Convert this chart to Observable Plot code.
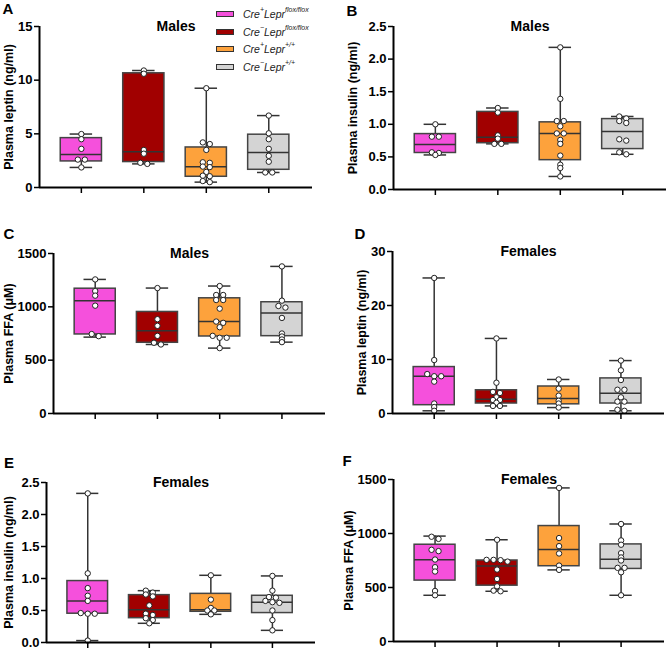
<!DOCTYPE html>
<html><head><meta charset="utf-8">
<script src="https://cdn.jsdelivr.net/npm/d3@7"></script>
<script src="https://cdn.jsdelivr.net/npm/@observablehq/plot@0.6"></script>
<style>
body{margin:0;background:#fff;}
#wrap{position:relative;width:668px;height:650px;font-family:"Liberation Sans",Arial,sans-serif;overflow:hidden;background:#fff;}
.panel{position:absolute;}
.letter{position:absolute;font-weight:bold;font-size:15px;line-height:1;transform:translate(-50%,-50%);color:#000;}
.item{position:absolute;white-space:nowrap;font-style:italic;font-size:10.5px;color:#222;line-height:1;transform:translateY(-50%);}
.sw{position:absolute;width:16px;height:4px;border:1px solid #333;transform:translateY(-50%);}
.item sup{font-size:7px;vertical-align:top;position:relative;top:-3px;}
</style></head>
<body><div id="wrap"></div>
<script>
// ---- groups & legend ----
const groups = ["Cre+ Lepr flox/flox", "Cre- Lepr flox/flox", "Cre+ Lepr +/+", "Cre- Lepr +/+"];
const groupColors = ["#f550dc", "#a10000", "#fda23c", "#d4d4d4"];
const creSup = ["+", "\u2212", "+", "\u2212"];
const leprSup = ["flox/flox", "flox/flox", "+/+", "+/+"];

// ---- A: leptin, males ----
const leptinMales = [
  [4.98, 4.5, 3.6, 2.6, 2.6, 1.87],
  [10.9, 10.6, 3.5, 3.15, 2.3, 2.2],
  [9.25, 4.2, 4.05, 3.5, 2.35, 2.3, 1.95, 1.9, 1.45, 1.1, 1.05, 0.6, 0.5],
  [6.7, 5.05, 4.5, 3.6, 2.95, 2.4, 1.4, 1.4]
];
const leptinMalesBox = [[1.87, 2.43, 3.08, 4.6, 4.98], [2.2, 2.37, 3.33, 10.64, 10.9], [0.5, 1.0, 1.93, 3.73, 9.25], [1.4, 1.65, 3.27, 4.92, 6.7]];
// ---- B: insulin, males ----
const insulinMales = [
  [1.0, 0.81, 0.81, 0.57, 0.56, 0.53],
  [1.25, 1.18, 0.83, 0.78, 0.70, 0.70],
  [2.18, 1.39, 1.05, 1.05, 0.97, 0.86, 0.86, 0.76, 0.70, 0.52, 0.38, 0.33, 0.20],
  [1.12, 1.09, 1.05, 1.02, 0.77, 0.75, 0.57, 0.54]
];
const insulinMalesBox = [[0.53, 0.56, 0.69, 0.85, 1.0], [0.70, 0.71, 0.80, 1.19, 1.25], [0.20, 0.45, 0.86, 1.03, 2.18], [0.54, 0.62, 0.89, 1.08, 1.12]];
// ---- C: FFA, males ----
const ffaMales = [
  [1257, 1148, 1105, 1011, 745, 725],
  [1176, 884, 822, 728, 663, 647],
  [1195, 1111, 1111, 1064, 1064, 983, 862, 850, 809, 728, 710, 710, 613],
  [1379, 1058, 1008, 993, 896, 750, 722, 694, 669]
];
const ffaMalesBox = [[716, 741, 1058, 1170, 1257], [647, 663, 775, 952, 1176], [613, 722, 862, 1080, 1195], [669, 725, 943, 1043, 1379]];
// ---- D: leptin, females ----
const leptinFemales = [
  [25.1, 9.9, 7.3, 6.9, 6.9, 5.9, 1.85, 1.2, 0.5],
  [13.9, 5.7, 4.0, 3.8, 3.0, 2.5, 2.5, 2.0, 1.4, 1.4],
  [6.3, 4.6, 3.3, 2.35, 1.85, 1.1],
  [9.8, 8.0, 6.2, 4.4, 4.4, 3.0, 2.2, 2.2, 0.7, 0.5]
];
const leptinFemalesBox = [[0.5, 1.54, 6.9, 8.6, 25.1], [1.4, 1.85, 2.65, 4.3, 13.9], [1.1, 1.7, 2.8, 5.0, 6.3], [0.5, 1.85, 3.75, 6.5, 9.8]];
// ---- E: insulin, females ----
const insulinFemales = [
  [2.33, 1.08, 0.85, 0.73, 0.65, 0.46, 0.45, 0.45, 0.03],
  [0.81, 0.78, 0.75, 0.72, 0.58, 0.45, 0.43, 0.38, 0.35, 0.30],
  [1.05, 0.67, 0.54, 0.50, 0.50, 0.44],
  [1.04, 0.81, 0.71, 0.70, 0.65, 0.63, 0.62, 0.50, 0.35, 0.19]
];
const insulinFemalesBox = [[0.03, 0.45, 0.65, 0.96, 2.33], [0.30, 0.38, 0.51, 0.74, 0.81], [0.44, 0.48, 0.51, 0.76, 1.05], [0.19, 0.46, 0.63, 0.73, 1.04]];
// ---- F: FFA, females ----
const ffaFemales = [
  [970, 950, 849, 837, 759, 688, 648, 468, 428],
  [942, 756, 756, 753, 740, 666, 579, 511, 471, 465],
  [1422, 958, 883, 815, 703, 663],
  [1088, 936, 896, 818, 778, 750, 682, 682, 641, 428]
];
const ffaFemalesBox = [[428, 564, 756, 896, 976], [465, 517, 700, 750, 942], [663, 697, 852, 1069, 1422], [428, 672, 762, 899, 1088]];

// ---- axis ticks / labels ----
const ticksLeptinM = [0, 5, 10, 15];
const ticksInsulin = [0, 0.5, 1.0, 1.5, 2.0, 2.5];
const ticksFFA = [0, 500, 1000, 1500];
const ticksLeptinF = [0, 10, 20, 30];

const panels = [
  {letter: "A", title: "Males", label: "Plasma leptin (ng/ml)", values: leptinMales, box: leptinMalesBox, yDom: [0, 15], ticks: ticksLeptinM, fmt: d3.format("d"),
   left: 0, top: 0, h: 210, ml: 39, mr: 22, mt: 26, mb: 23, labelDx: -31, lx: 8, ly: 8},
  {letter: "B", title: "Males", label: "Plasma insulin (ng/ml)", values: insulinMales, box: insulinMalesBox, yDom: [0, 2.5], ticks: ticksInsulin, fmt: d3.format(".1f"),
   left: 334, top: 0, h: 210, ml: 59, mr: 2, mt: 26, mb: 21, labelDx: -40.5, lx: 352, ly: 9.5},
  {letter: "C", title: "Males", label: "Plasma FFA (\u03bcM)", values: ffaMales, box: ffaMalesBox, yDom: [0, 1500], ticks: ticksFFA, fmt: d3.format("d"),
   left: 0, top: 210, h: 220, ml: 53, mr: 9, mt: 43, mb: 17, labelDx: -45, lx: 9, ly: 232.5},
  {letter: "D", title: "Females", label: "Plasma leptin (ng/ml)", values: leptinFemales, box: leptinFemalesBox, yDom: [0, 30], ticks: ticksLeptinF, fmt: d3.format("d"),
   left: 334, top: 210, h: 220, ml: 58, mr: 4, mt: 41, mb: 17, labelDx: -30.5, lx: 360, ly: 232.5},
  {letter: "E", title: "Females", label: "Plasma insulin (ng/ml)", values: insulinFemales, box: insulinFemalesBox, yDom: [0, 2.5], ticks: ticksInsulin, fmt: d3.format(".1f"),
   left: 0, top: 430, h: 220, ml: 46, mr: 19, mt: 52, mb: 8, labelDx: -37.5, lx: 9, ly: 461.5},
  {letter: "F", title: "Females", label: "Plasma FFA (\u03bcM)", values: ffaFemales, box: ffaFemalesBox, yDom: [0, 1500], ticks: ticksFFA, fmt: d3.format("d"),
   left: 334, top: 430, h: 220, ml: 59, mr: 4, mt: 49, mb: 9, labelDx: -45, lx: 347, ly: 460}
];

// deterministic row layout (Prism-like scatter): points close in y share a row, centred
function rowOffsets(values, pxPerUnit, threshold, spacing) {
  const idx = d3.range(values.length).sort((a, b) => values[b] - values[a]);
  const off = new Array(values.length).fill(0);
  let row = [];
  const flush = () => { row.forEach((j, k) => off[j] = (k - (row.length - 1) / 2) * spacing); row = []; };
  for (const j of idx) {
    if (row.length && (values[row[0]] - values[j]) * pxPerUnit > threshold) flush();
    row.push(j);
  }
  flush();
  return off;
}

const wrap = document.getElementById("wrap");
const W = 334;
const xDom = [-0.67, 3.7];
const stroke = "#333";

for (const p of panels) {
  const xPx = (W - p.ml - p.mr) / (xDom[1] - xDom[0]);
  const yPx = (p.h - p.mt - p.mb) / (p.yDom[1] - p.yDom[0]);
  const points = [];
  p.values.forEach((vals, i) => {
    const off = rowOffsets(vals, yPx, 2.5, 7);
    vals.forEach((v, k) => points.push({i, v, x: i + off[k] / xPx}));
  });
  const boxes = p.box.map((b, i) => ({i, min: b[0], q1: b[1], med: b[2], q3: b[3], max: b[4], color: groupColors[i]}));

  const chart = Plot.plot({
    width: W, height: p.h,
    marginLeft: p.ml, marginRight: p.mr, marginTop: p.mt, marginBottom: p.mb,
    x: {domain: xDom},
    y: {domain: p.yDom},
    color: {type: "identity"},
    style: {fontFamily: "'Liberation Sans', Arial, sans-serif", fontWeight: "bold", color: "#000", background: "transparent", overflow: "visible"},
    marks: [
      Plot.ruleX(boxes, {x: "i", y1: "min", y2: "max", stroke, strokeWidth: 1.5}),
      Plot.ruleY(boxes, {y: "max", x1: d => d.i - 0.18, x2: d => d.i + 0.18, stroke, strokeWidth: 1.5}),
      Plot.ruleY(boxes, {y: "min", x1: d => d.i - 0.18, x2: d => d.i + 0.18, stroke, strokeWidth: 1.5}),
      Plot.rect(boxes, {x1: d => d.i - 0.33, x2: d => d.i + 0.33, y1: "q1", y2: "q3", fill: "color", stroke: "#444", strokeWidth: 1.5}),
      Plot.ruleY(boxes, {y: "med", x1: d => d.i - 0.33, x2: d => d.i + 0.33, stroke, strokeWidth: 1.5}),
      Plot.dot(points, {x: "x", y: "v", r: 2.7, fill: "white", stroke: "#222", strokeWidth: 1}),
      Plot.ruleY([p.yDom[0]], {stroke: "#000", strokeWidth: 2}),
      Plot.ruleX([xDom[0]], {y1: p.yDom[0], y2: p.yDom[1], stroke: "#000", strokeWidth: 2}),
      Plot.axisY({ticks: p.ticks, tickFormat: p.fmt, tickSize: 5, tickPadding: 2, fontSize: 13, fontWeight: "bold", strokeWidth: 1.5, label: null}),
      Plot.axisX({ticks: [0, 1, 2, 3], tickFormat: () => "", tickSize: 6, strokeWidth: 1.5, label: null}),
      Plot.text([p.title], {text: d => d, frameAnchor: "top", lineAnchor: "middle", fontSize: 14, fontWeight: "bold"}),
      Plot.text([p.label], {text: d => d, frameAnchor: "left", rotate: -90, dx: p.labelDx, textAnchor: "middle", lineAnchor: "middle", fontSize: 12.5, fontWeight: "bold"})
    ]
  });
  const div = document.createElement("div");
  div.className = "panel";
  div.style.left = p.left + "px";
  div.style.top = p.top + "px";
  div.appendChild(chart);
  wrap.appendChild(div);

  const L = document.createElement("div");
  L.className = "letter";
  L.textContent = p.letter;
  L.style.left = p.lx + "px";
  L.style.top = p.ly + "px";
  wrap.appendChild(L);
}

// legend (top of panel A)
const legendY = [14.3, 31.7, 49.3, 66.7];
groups.forEach((g, i) => {
  const sw = document.createElement("div");
  sw.className = "sw";
  sw.style.left = "216px";
  sw.style.top = legendY[i] + "px";
  sw.style.background = groupColors[i];
  wrap.appendChild(sw);
  const t = document.createElement("div");
  t.className = "item";
  t.style.left = "243px";
  t.style.top = legendY[i] + "px";
  t.innerHTML = "Cre<sup>" + creSup[i] + "</sup>Lepr<sup>" + leprSup[i] + "</sup>";
  wrap.appendChild(t);
});
</script>
</body></html>
